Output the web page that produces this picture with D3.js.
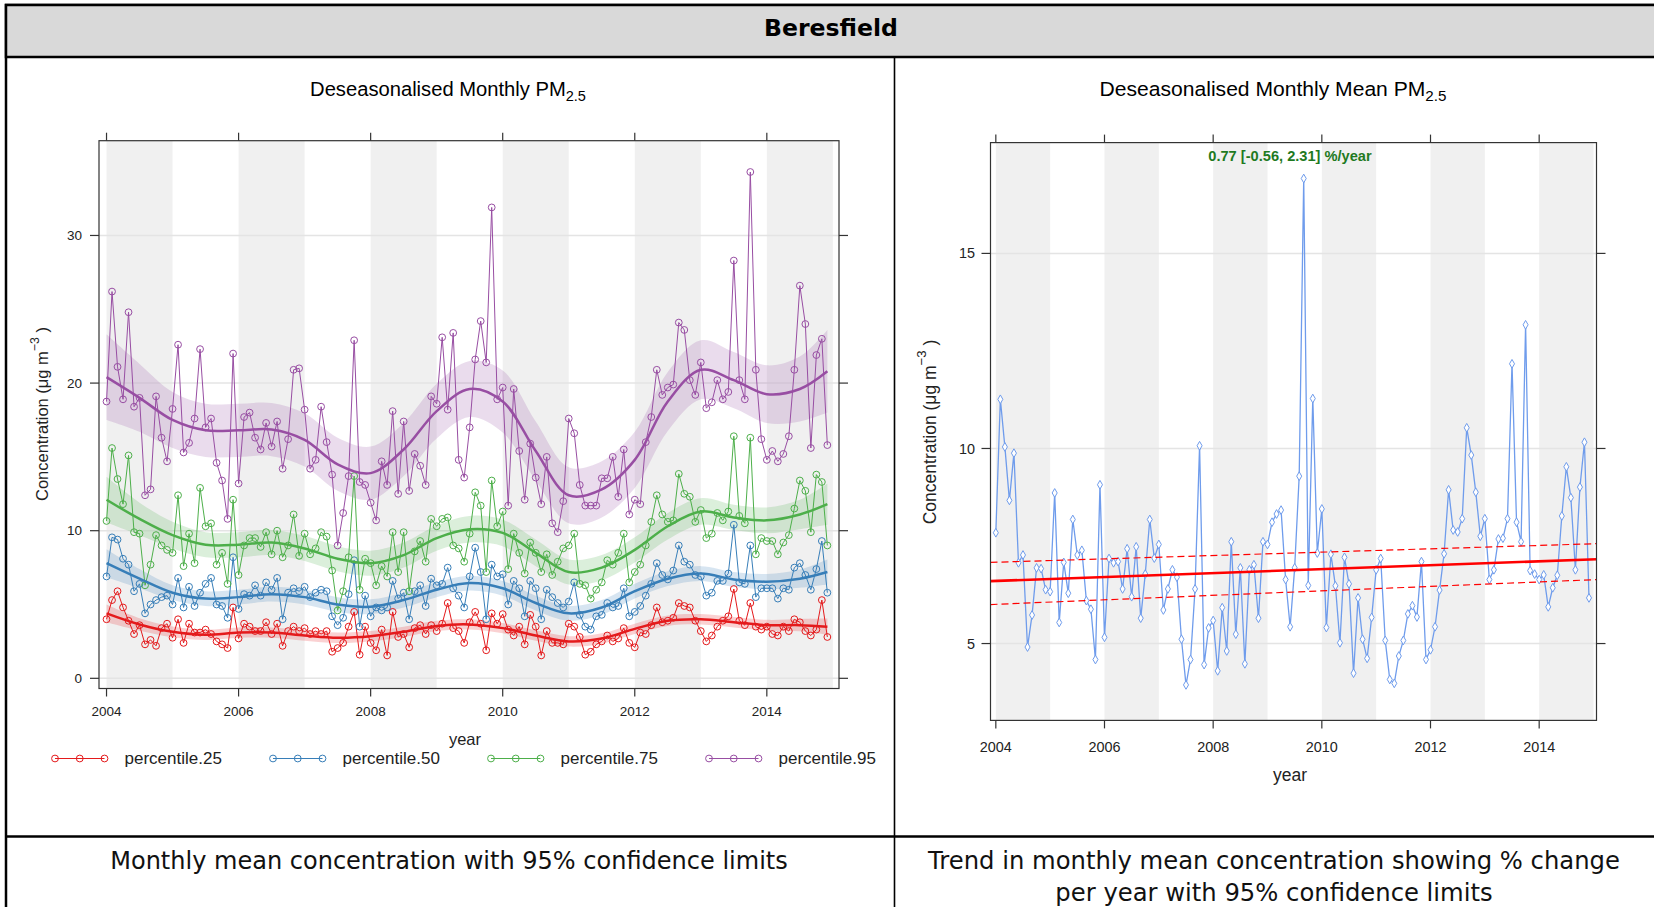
<!DOCTYPE html>
<html><head><meta charset="utf-8">
<script src="https://cdn.jsdelivr.net/npm/d3@7"></script>
<style>body{margin:0;background:#fff;overflow:hidden}svg{display:block}</style>
</head><body>
<svg id="c" width="1654" height="907"></svg>
<script>
// ---------------- DATA ----------------
const siteName = "Beresfield";
const startYear = 2004;
const nMonths = 132;
const yearTicks = [2004, 2006, 2008, 2010, 2012, 2014];
const leftYTicks = [0, 10, 20, 30];
const rightYTicks = [5, 10, 15];
const seriesNames = ["percentile.25", "percentile.50", "percentile.75", "percentile.95"];
const seriesColors = ["#E41A1C", "#377EB8", "#4DAF4A", "#984EA3"];

const p25 = [4.0,5.3,5.9,4.8,3.9,3.0,3.6,2.3,2.6,2.2,3.4,3.7,2.75,4.0,2.4,3.7,3.1,3.1,3.3,3.0,2.5,2.3,2.05,4.8,2.7,3.7,3.5,3.2,3.2,3.8,3.0,3.7,2.2,3.2,3.5,3.2,3.4,3.0,3.2,3.0,3.2,1.8,2.05,2.4,3.5,4.5,1.6,3.5,2.4,1.9,3.3,1.55,4.5,2.8,3.0,2.1,3.4,3.6,3.0,3.6,3.2,3.7,5.1,3.4,3.2,2.4,3.8,4.5,3.7,1.9,4.4,3.7,4.35,3.3,2.9,3.5,2.3,4.3,3.5,1.55,3.2,2.4,2.4,2.3,3.7,3.5,2.8,1.6,1.8,2.3,2.5,2.9,2.5,2.7,3.4,2.4,2.1,3.1,3.0,3.6,4.8,3.8,3.9,4.1,5.1,4.9,4.8,3.9,3.2,2.5,2.9,3.5,3.9,4.2,6.05,3.9,3.6,5.1,3.5,3.3,3.5,3.0,2.9,3.5,3.2,4.0,3.8,3.2,2.9,3.3,5.3,2.8];
const p50 = [6.9,9.55,9.4,8.1,7.7,5.9,6.4,4.4,5.0,5.3,5.5,5.6,5.0,6.8,4.8,6.2,4.9,5.8,6.4,6.8,5.0,4.9,4.1,8.2,4.7,5.7,5.6,6.3,5.6,6.5,6.0,6.8,4.0,5.8,6.1,5.9,6.2,5.5,5.8,6.0,5.9,4.2,3.6,4.1,5.7,8.0,3.5,5.6,4.2,4.8,4.6,4.8,6.6,5.4,5.8,4.0,5.9,6.3,4.9,6.75,6.3,6.4,7.5,6.1,5.6,4.8,6.9,8.85,7.2,4.0,7.7,6.9,7.05,5.0,6.6,6.1,4.2,6.6,6.1,4.0,6.0,5.5,5.1,4.8,5.2,6.5,4.3,3.5,3.3,4.2,4.3,5.1,4.8,4.9,6.1,4.2,4.5,4.9,5.6,6.4,7.8,7.0,6.7,7.3,9.0,7.9,7.7,7.0,6.9,5.6,5.8,6.6,6.6,7.1,10.4,6.5,6.4,9.0,5.5,6.1,6.1,6.1,5.4,6.1,6.0,7.5,7.8,7.0,6.0,7.4,9.3,5.8];
const p75 = [10.66,15.6,13.5,11.8,15.1,9.9,9.8,6.3,7.7,9.7,9.0,8.7,8.5,12.4,7.6,9.8,7.8,12.9,10.3,10.5,7.7,8.5,6.4,12.1,7.0,9.0,9.5,9.5,8.9,9.9,8.4,10.0,8.2,9.0,11.1,8.3,9.8,8.4,8.8,9.9,9.6,7.3,4.6,5.9,8.2,13.7,6.0,8.1,7.8,6.3,7.6,6.9,9.9,7.2,9.9,5.9,8.6,9.3,7.9,10.8,10.3,10.8,10.9,9.0,8.8,7.9,9.8,12.6,11.7,7.2,13.4,10.3,11.3,7.4,9.8,8.5,7.1,9.2,8.5,7.2,8.4,7.0,7.9,8.8,9.0,9.8,6.4,6.3,5.4,6.0,6.5,8.0,7.7,8.5,9.8,6.5,7.2,7.7,9.0,10.6,12.4,11.1,10.6,10.7,13.85,12.5,12.3,10.6,11.4,9.5,9.8,11.2,10.7,11.3,16.4,11.0,10.5,16.3,8.4,9.5,9.3,9.3,8.4,9.2,9.7,11.5,13.4,12.7,9.9,13.8,13.3,9.0];
const p95 = [18.75,26.2,21.1,18.9,24.8,18.4,19.0,12.4,12.8,19.1,16.3,14.7,18.25,22.6,15.3,15.95,17.6,22.3,17.0,17.6,14.6,13.4,10.8,22.0,13.2,17.7,18.0,16.3,15.5,17.3,15.7,17.4,14.2,16.2,20.9,21.0,18.2,14.2,14.8,18.4,16.0,13.8,9.0,11.2,13.7,22.9,13.3,13.1,11.9,10.7,14.7,13.1,18.1,12.5,17.4,12.7,15.2,14.4,13.1,19.1,18.6,23.1,18.2,23.4,14.8,13.6,17.0,21.6,24.2,21.4,31.9,18.9,19.7,11.7,19.6,15.4,12.1,15.9,13.6,11.8,15.0,10.5,9.9,12.0,17.6,16.6,13.1,11.7,11.7,11.7,13.55,13.55,15.0,12.3,15.5,11.1,12.1,11.8,16.0,17.7,20.9,19.2,19.7,19.9,24.1,23.6,20.2,19.2,21.4,18.3,18.7,20.2,18.9,19.4,28.3,20.2,18.9,34.3,20.9,16.2,14.8,15.4,14.7,15.2,16.4,20.9,26.6,24.0,15.6,21.9,23.0,15.8];

// smooth trend (knots every half year) and 95% band half-widths
const smoothYears = [2004,2004.5,2005,2005.5,2006,2006.5,2007,2007.5,2008,2008.5,2009,2009.5,2010,2010.5,2011,2011.5,2012,2012.5,2013,2013.5,2014,2014.5,2014.917];
const s25 = [4.4,3.65,3.15,2.95,3.1,3.1,2.9,2.75,2.85,3.15,3.55,3.65,3.4,2.9,2.5,2.7,3.35,3.9,4.0,3.8,3.6,3.6,3.5];
const s50 = [7.8,6.75,5.8,5.4,5.5,5.7,5.5,5.0,4.85,5.3,6.0,6.45,6.1,5.1,4.4,4.8,5.9,6.75,7.1,6.7,6.55,6.75,7.2];
const s75 = [12.1,10.8,9.7,9.05,9.05,9.2,8.8,8.1,7.8,8.35,9.5,10.1,9.85,8.5,7.2,7.5,8.7,10.3,11.3,10.9,10.7,11.1,11.8];
const s95 = [20.4,19.0,17.5,16.8,16.8,16.85,16.15,14.5,13.9,15.5,18.1,19.6,18.75,15.4,12.4,12.8,14.8,18.75,20.9,20.2,19.25,19.6,20.8];
const h25 = [0.6,0.42,0.36,0.35,0.35,0.35,0.35,0.35,0.35,0.35,0.35,0.35,0.35,0.35,0.35,0.35,0.35,0.35,0.35,0.35,0.36,0.42,0.55];
const h50 = [0.95,0.65,0.5,0.5,0.5,0.5,0.5,0.5,0.5,0.5,0.5,0.5,0.5,0.5,0.5,0.5,0.5,0.5,0.5,0.5,0.52,0.62,0.85];
const h75 = [1.55,1.1,0.9,0.85,0.85,0.85,0.85,0.85,0.85,0.85,0.85,0.9,0.9,0.9,0.85,0.85,0.85,0.9,0.9,0.85,0.88,1.0,1.4];
const h95 = [2.9,2.3,1.9,1.8,1.8,1.8,1.8,1.8,1.8,1.8,1.85,1.9,2.1,2.0,1.9,1.9,1.9,2.0,2.0,1.9,1.95,2.2,2.8];

// monthly mean (right panel)
const meanPM = [7.84,11.26,10.04,8.67,9.88,7.07,7.27,4.91,5.73,6.94,6.92,6.38,6.33,8.86,5.54,7.08,6.29,8.18,7.27,7.39,6.10,5.88,4.59,9.07,5.16,7.18,7.07,7.10,6.40,7.43,6.20,7.48,5.65,6.78,8.18,7.19,7.54,5.86,6.40,6.89,6.70,5.11,3.94,4.59,6.40,10.07,4.46,5.40,5.59,4.30,5.92,4.81,7.61,5.24,6.94,4.48,6.89,7.02,5.65,7.61,7.54,8.11,8.32,8.42,6.64,5.43,6.94,9.29,16.92,6.49,11.28,7.32,8.45,5.41,7.29,6.48,5.02,7.21,6.53,4.24,6.17,5.11,4.62,5.67,6.89,7.18,5.08,4.08,3.98,4.68,5.08,5.76,5.97,5.68,7.10,4.59,4.84,5.43,6.37,7.30,8.94,7.91,7.86,8.20,10.53,9.83,8.88,7.75,8.20,6.64,6.89,7.68,7.70,8.20,12.17,8.11,7.61,13.17,6.87,6.78,6.64,6.76,5.94,6.43,6.75,8.27,9.53,8.74,6.89,9.01,10.16,6.17];
// Theil-Sen trend line and 95% limits at the panel edges
const trendYears = [2003.902, 2015.055];
const trendMid = [6.6, 7.16];
const trendLow = [6.0, 6.64];
const trendHigh = [7.08, 7.56];
const trendLabel = "0.77 [-0.56, 2.31] %/year";

const leftTitle = ["Deseasonalised Monthly PM", "2.5"];
const rightTitle = ["Deseasonalised Monthly Mean PM", "2.5"];
const leftCaption = "Monthly mean concentration with 95% confidence limits";
const rightCaption = ["Trend in monthly mean concentration showing % change", "per year with 95% confidence limits"];

// ---------------- DRAW ----------------
const svg = d3.select("#c");
const CF = "'Liberation Sans', Arial, sans-serif";
const TF = "'DejaVu Sans', Verdana, sans-serif";
const monthYear = d3.range(nMonths).map(i => startYear + i / 12);

function fit(sel, target) {
  const w = sel.node().getComputedTextLength();
  const fs = parseFloat(sel.attr("font-size"));
  sel.attr("font-size", (fs * target / w).toFixed(2));
}

// table frame
svg.append("rect").attr("x", 6).attr("y", 5).attr("width", 1700).attr("height", 1000)
  .attr("fill", "#fff").attr("stroke", "#000").attr("stroke-width", 2.5);
svg.append("rect").attr("x", 6).attr("y", 5).attr("width", 1700).attr("height", 52)
  .attr("fill", "#d9d9d9").attr("stroke", "#000").attr("stroke-width", 2.5);
svg.append("line").attr("x1", 894.5).attr("x2", 894.5).attr("y1", 57).attr("y2", 907)
  .attr("stroke", "#000").attr("stroke-width", 1.6);
svg.append("line").attr("x1", 6).attr("x2", 1654).attr("y1", 836.5).attr("y2", 836.5)
  .attr("stroke", "#000").attr("stroke-width", 2.5);
const bt = svg.append("text").attr("x", 831).attr("y", 36).attr("text-anchor", "middle")
  .attr("font-family", TF).attr("font-weight", "bold").attr("font-size", 22).text(siteName);
fit(bt, 134);
const lc = svg.append("text").attr("x", 449).attr("y", 869).attr("text-anchor", "middle")
  .attr("font-family", TF).attr("font-size", 21).attr("fill", "#111").text(leftCaption);
fit(lc, 678);
const rc1 = svg.append("text").attr("x", 1274).attr("y", 869).attr("text-anchor", "middle")
  .attr("font-family", TF).attr("font-size", 21).attr("fill", "#111").text(rightCaption[0]);
fit(rc1, 692);
svg.append("text").attr("x", 1274).attr("y", 901).attr("text-anchor", "middle")
  .attr("font-family", TF).attr("font-size", rc1.attr("font-size")).attr("fill", "#111").text(rightCaption[1]);

function title(x, y, parts, target) {
  const t = svg.append("text").attr("x", x).attr("y", y).attr("text-anchor", "middle")
    .attr("font-family", CF).attr("font-size", 19).attr("fill", "#000");
  t.append("tspan").text(parts[0]);
  t.append("tspan").attr("font-size", "0.72em").attr("dy", 5).text(parts[1]);
  fit(t, target);
}
title(448, 96, leftTitle, 276);
title(1273, 96, rightTitle, 347);

function frame(g, x, y, box, yTicks) {
  const [L, T, R, B] = box;
  yearTicks.forEach(yr => {
    g.append("rect").attr("x", x(yr)).attr("y", T).attr("width", x(yr + 1) - x(yr)).attr("height", B - T)
      .attr("fill", "#f0f0f0");
  });
  yTicks.forEach(v => {
    g.append("line").attr("x1", L).attr("x2", R).attr("y1", y(v)).attr("y2", y(v))
      .attr("stroke", "#e4e4e4").attr("stroke-width", 1.5);
  });
}
function axes(g, x, y, box, yTicks, tickFs, xLabY, yLabX) {
  const [L, T, R, B] = box;
  g.append("rect").attr("x", L).attr("y", T).attr("width", R - L).attr("height", B - T)
    .attr("fill", "none").attr("stroke", "#333").attr("stroke-width", 1.2);
  yearTicks.forEach(yr => {
    g.append("line").attr("x1", x(yr)).attr("x2", x(yr)).attr("y1", T - 8).attr("y2", T).attr("stroke", "#333").attr("stroke-width", 1.2);
    g.append("line").attr("x1", x(yr)).attr("x2", x(yr)).attr("y1", B).attr("y2", B + 8).attr("stroke", "#333").attr("stroke-width", 1.2);
    g.append("text").attr("x", x(yr)).attr("y", xLabY).attr("text-anchor", "middle")
      .attr("font-family", CF).attr("font-size", tickFs).attr("fill", "#222").text(yr);
  });
  yTicks.forEach(v => {
    g.append("line").attr("x1", L - 9).attr("x2", L).attr("y1", y(v)).attr("y2", y(v)).attr("stroke", "#333").attr("stroke-width", 1.2);
    g.append("line").attr("x1", R).attr("x2", R + 9).attr("y1", y(v)).attr("y2", y(v)).attr("stroke", "#333").attr("stroke-width", 1.2);
    g.append("text").attr("x", yLabX).attr("y", y(v)).attr("dy", "0.35em").attr("text-anchor", "end")
      .attr("font-family", CF).attr("font-size", tickFs).attr("fill", "#222").text(v);
  });
}
function yLabel(cx, cy, fs) {
  const t = svg.append("text").attr("transform", `translate(${cx},${cy}) rotate(-90)`)
    .attr("text-anchor", "middle").attr("font-family", CF).attr("font-size", fs).attr("fill", "#222");
  t.append("tspan").text("Concentration (\u03BCg m");
  t.append("tspan").attr("font-size", "0.75em").attr("dy", -fs * 0.55).text("\u22123");
  t.append("tspan").attr("dy", fs * 0.55).text(" )");
}

// ---------- LEFT PANEL ----------
const boxL = [99, 140.7, 839, 688.5];
const xL = d3.scaleLinear().domain([2003.886, 2015.093]).range([boxL[0], boxL[2]]);
const yL = d3.scaleLinear().domain([-0.69, 36.42]).range([boxL[3], boxL[1]]);
const gL = svg.append("g");
frame(gL, xL, yL, boxL, leftYTicks);
gL.append("clipPath").attr("id", "clipL").append("rect")
  .attr("x", boxL[0]).attr("y", boxL[1]).attr("width", boxL[2] - boxL[0]).attr("height", boxL[3] - boxL[1]);
const plotL = gL.append("g").attr("clip-path", "url(#clipL)");

const pct = [p25, p50, p75, p95];
const smooth = [s25, s50, s75, s95];
const half = [h25, h50, h75, h95];
const curve = d3.curveCatmullRom.alpha(0.5);
pct.forEach((_, k) => {
  const area = d3.area().curve(curve)
    .x((d, i) => xL(smoothYears[i]))
    .y0((d, i) => yL(smooth[k][i] - half[k][i]))
    .y1((d, i) => yL(smooth[k][i] + half[k][i]));
  plotL.append("path").datum(smoothYears).attr("d", area)
    .attr("fill", seriesColors[k]).attr("fill-opacity", 0.2);
});
pct.forEach((vals, k) => {
  const line = d3.line().x((d, i) => xL(monthYear[i])).y(d => yL(d));
  plotL.append("path").datum(vals).attr("d", line).attr("fill", "none")
    .attr("stroke", seriesColors[k]).attr("stroke-width", 1);
  plotL.append("g").selectAll("circle").data(vals).join("circle")
    .attr("cx", (d, i) => xL(monthYear[i])).attr("cy", d => yL(d)).attr("r", 3.4)
    .attr("fill", "none").attr("stroke", seriesColors[k]).attr("stroke-width", 1);
});
pct.forEach((_, k) => {
  const sl = d3.line().curve(curve).x((d, i) => xL(smoothYears[i])).y((d, i) => yL(smooth[k][i]));
  plotL.append("path").datum(smoothYears).attr("d", sl).attr("fill", "none")
    .attr("stroke", seriesColors[k]).attr("stroke-width", 2.5);
});
axes(gL, xL, yL, boxL, leftYTicks, 13.5, 716, 82);
yLabel(48, 414, 16.5);
svg.append("text").attr("x", 465).attr("y", 745).attr("text-anchor", "middle")
  .attr("font-family", CF).attr("font-size", 16.5).attr("fill", "#222").text("year");

// legend
const legX = [55, 273, 491, 709];
seriesNames.forEach((name, k) => {
  const g = svg.append("g");
  const x0 = legX[k], yy = 758.5;
  g.append("line").attr("x1", x0).attr("x2", x0 + 49.5).attr("y1", yy).attr("y2", yy)
    .attr("stroke", seriesColors[k]).attr("stroke-width", 1.2);
  [0, 24.75, 49.5].forEach(dx => g.append("circle").attr("cx", x0 + dx).attr("cy", yy).attr("r", 3.4)
    .attr("fill", "none").attr("stroke", seriesColors[k]).attr("stroke-width", 1));
  g.append("text").attr("x", x0 + 69.5).attr("y", yy).attr("dy", "0.35em")
    .attr("font-family", CF).attr("font-size", 17).attr("fill", "#222").text(name);
});

// ---------- RIGHT PANEL ----------
const boxR = [990.5, 142.6, 1596.5, 720.4];
const xR = d3.scaleLinear().domain([2003.902, 2015.055]).range([boxR[0], boxR[2]]);
const yR = d3.scaleLinear().domain([3.03, 17.84]).range([boxR[3], boxR[1]]);
const gR = svg.append("g");
frame(gR, xR, yR, boxR, rightYTicks);
gR.append("clipPath").attr("id", "clipR").append("rect")
  .attr("x", boxR[0]).attr("y", boxR[1]).attr("width", boxR[2] - boxR[0]).attr("height", boxR[3] - boxR[1]);
const plotR = gR.append("g").attr("clip-path", "url(#clipR)");
const lineR = d3.line().x((d, i) => xR(monthYear[i])).y(d => yR(d));
plotR.append("path").datum(meanPM).attr("d", lineR).attr("fill", "none")
  .attr("stroke", "#6f9cec").attr("stroke-width", 1.3);
plotR.append("g").selectAll("path").data(meanPM).join("path")
  .attr("transform", (d, i) => `translate(${xR(monthYear[i])},${yR(d)})`)
  .attr("d", d3.symbol(d3.symbolDiamond, 22))
  .attr("fill", "#fff").attr("stroke", "#6f9cec").attr("stroke-width", 1);
const tl = d3.line().x((d, i) => xR(trendYears[i])).y(d => yR(d));
plotR.append("path").datum(trendLow).attr("d", tl).attr("fill", "none").attr("stroke", "#ff0000")
  .attr("stroke-width", 1.2).attr("stroke-dasharray", "7,4");
plotR.append("path").datum(trendHigh).attr("d", tl).attr("fill", "none").attr("stroke", "#ff0000")
  .attr("stroke-width", 1.2).attr("stroke-dasharray", "7,4");
plotR.append("path").datum(trendMid).attr("d", tl).attr("fill", "none").attr("stroke", "#ff0000")
  .attr("stroke-width", 2.6);
const an = gR.append("text").attr("x", 1290).attr("y", 161).attr("text-anchor", "middle")
  .attr("font-family", CF).attr("font-weight", "bold").attr("font-size", 14.5).attr("fill", "#1f7a1f").text(trendLabel);
fit(an, 163.5);
axes(gR, xR, yR, boxR, rightYTicks, 14.4, 752, 975);
yLabel(936, 432, 17.5);
svg.append("text").attr("x", 1290).attr("y", 781).attr("text-anchor", "middle")
  .attr("font-family", CF).attr("font-size", 17.5).attr("fill", "#222").text("year");
</script>
</body></html>
